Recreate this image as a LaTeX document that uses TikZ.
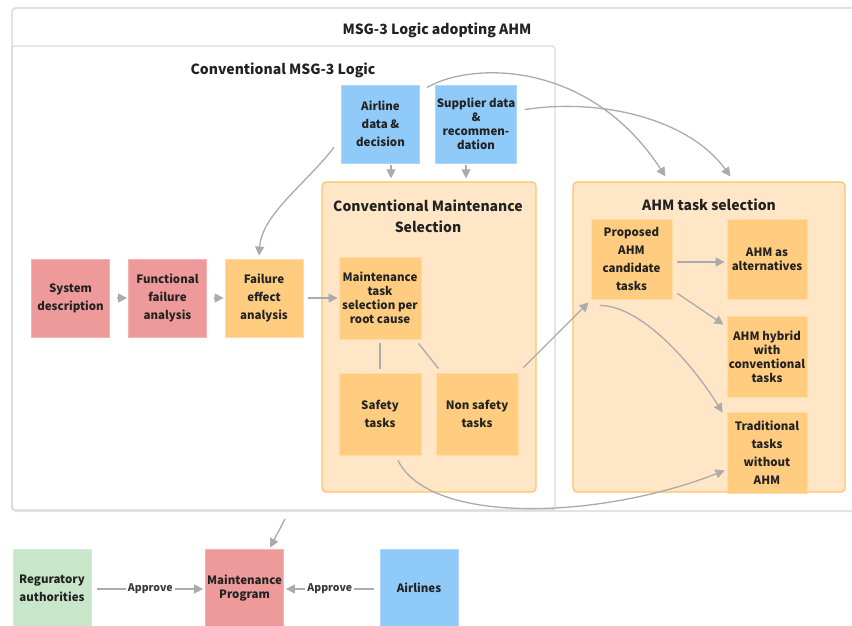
\documentclass[tikz,border=0pt]{standalone}
\usepackage{fontspec}
\setmainfont{Noto Sans CJK JP}
\usetikzlibrary{arrows.meta,calc}

\definecolor{pinkbox}{HTML}{EF9A9A}
\definecolor{bluebox}{HTML}{90CAF9}
\definecolor{orangebox}{HTML}{FFCC80}
\definecolor{greenbox}{HTML}{C8E6C9}
\definecolor{panelfill}{HTML}{FFE6C6}
\definecolor{panelline}{HTML}{FFC266}
\definecolor{conn}{HTML}{ABABAB}
\definecolor{ink}{HTML}{222222}
\definecolor{outerline}{HTML}{E3E3E3}
\definecolor{innerline}{HTML}{DADADA}

\begin{document}
\begin{tikzpicture}[x=1pt,y=-1pt,
  frame/.style={rectangle, inner sep=0pt},
  boxtext/.style={font=\bfseries\fontsize{11.5}{18}\selectfont},
  tight/.style={font=\bfseries\fontsize{11.5}{14}\selectfont},
  box/.style={rectangle, inner sep=1pt, align=center, text=ink, boxtext,
    minimum width=78pt, minimum height=78pt, line width=0.8pt},
  pinknode/.style={box, fill=pinkbox, draw=pinkbox!75!white},
  bluenode/.style={box, fill=bluebox, draw=bluebox!75!white},
  orangenode/.style={box, fill=orangebox, draw=orangebox!70!white},
  greennode/.style={box, fill=greenbox, draw=greenbox!75!white},
  panel/.style={frame, fill=panelfill, draw=panelline, line width=1.2pt, rounded corners=4pt},
  heading/.style={text=ink, font=\bfseries\fontsize{14}{21}\selectfont, align=center},
  arr/.style={draw=conn, line width=1.3pt, -{Triangle[length=9pt,width=9pt]}},
  link/.style={draw=conn, line width=1.3pt},
  approve/.style={fill=white, text=ink!90, font=\bfseries\fontsize{10.5}{12}\selectfont, inner sep=2pt}
]
\useasboundingbox (0,0) rectangle (852,626);
\clip (0,0) rectangle (852,626);
\fill[white] (0,0) rectangle (852,626);

% outer and inner frames
\node[frame, draw=outerline, line width=2pt, rounded corners=4pt,
      minimum width=868pt, minimum height=503pt] (outer) at (446,259.5) {};
\node[heading] (outertitle) at (437,30) {MSG-3 Logic adopting AHM};
\node[frame, draw=innerline, line width=1.2pt, rounded corners=3pt,
      minimum width=543pt, minimum height=464pt] (inner) at (283.5,278) {};
\node[heading] (innertitle) at (283,70) {Conventional MSG-3 Logic};

% selection panels
\node[panel, minimum width=214pt, minimum height=310pt] (cms) at (429,337) {};
\node[heading] (cmstitle) at (428,216) {Conventional Maintenance\\Selection};
\node[panel, minimum width=272pt, minimum height=310pt] (ahm) at (709,337) {};
\node[heading] (ahmtitle) at (709,205) {AHM task selection};

% data sources
\node[bluenode] (airline) at (380.5,124) {Airline\\data \&\\decision};
\node[bluenode, tight] (supplier) at (476,124) {Supplier data\\\&\\recommen-\\dation};

% analysis chain
\node[pinknode] (sysdesc) at (70.5,298) {System\\description};
\node[pinknode] (funcfail) at (167.5,298) {Functional\\failure\\analysis};
\node[orangenode] (faileff) at (264,298) {Failure\\effect\\analysis};

% conventional maintenance selection
\node[orangenode, tight, minimum width=82pt, minimum height=82pt] (mtask) at (380,298)
  {Maintenance\\task\\selection per\\root cause};
\node[orangenode, minimum width=82pt, minimum height=82pt] (safety) at (380,414) {Safety\\tasks};
\node[orangenode, minimum width=82pt, minimum height=82pt] (nonsafety) at (477,414) {Non safety\\tasks};

% AHM task selection
\node[orangenode, minimum width=81pt, minimum height=80pt] (proposed) at (631.5,259)
  {Proposed\\AHM\\candidate\\tasks};
\node[orangenode, tight, minimum width=80pt, minimum height=80pt] (alternatives) at (767,259)
  {AHM as\\alternatives};
\node[orangenode, tight, minimum width=80pt, minimum height=81pt] (hybrid) at (767,356.5)
  {AHM hybrid\\with\\conventional\\tasks};
\node[orangenode, minimum width=80pt, minimum height=81pt] (traditional) at (767,452.5)
  {Traditional\\tasks\\without\\AHM};

% approval row
\node[greennode] (reg) at (52,588) {Reguratory\\authorities};
\node[pinknode, tight] (mprog) at (244.5,588) {Maintenance\\Program};
\node[bluenode] (airlines) at (419,588) {Airlines};

% connectors of the analysis chain
\draw[arr, shorten <=7pt, shorten >=1pt] (sysdesc) -- (funcfail);
\draw[arr, shorten <=7pt, shorten >=1pt] (funcfail) -- (faileff);
\draw[arr, shorten <=5pt, shorten >=1pt] (faileff) -- (mtask);
\draw[arr] ($(airline.south west)+(-7,-16)$) .. controls +(-30,38) and +(3,-41) .. ($(faileff.north)+(-5,-3)$);

% data sources into the panels
\draw[arr] ($(airline.south)+(10.5,2)$) -- ($(cms.north)+(-38,-3)$);
\draw[arr] ($(supplier.south)+(-10,2)$) -- ($(cms.north)+(37,-3)$);
\draw[arr] ($(airline.north east)+(7,3)$) .. controls +(44,-26) and +(-76,-117) .. ($(ahm.north west)+(93,-5)$);
\draw[arr] ($(supplier.north east)+(8,25)$) .. controls +(77,-12) and +(-41,-57) .. ($(ahm.north west)+(158,-5)$);

% conventional split
\draw[link, shorten <=4pt, shorten >=4pt] (mtask) -- (safety);
\draw[link] ($(mtask.south east)+(-3,4)$) -- ($(nonsafety.north west)+(3,-4)$);
\draw[arr] ($(nonsafety.north east)+(5,-5)$) -- ($(proposed.south west)+(-2,3)$);

% AHM outcomes
\draw[arr] ($(proposed.east)+(5,3)$) -- ($(alternatives.west)+(-2,3)$);
\draw[arr] ($(proposed.south east)+(5,-6)$) -- ($(hybrid.north west)+(-3,9)$);
\draw[arr] ($(proposed.south west)+(9,6)$) .. controls +(40,0) and +(-33,-53) .. ($(traditional.north west)+(-4,1)$);
\draw[arr] ($(safety.south)+(18,5)$) .. controls +(32,65) and +(-125,49) .. ($(traditional.west)+(-2,18)$);

% program approval
\draw[arr] ($(outer.south west)+(274,7)$) -- ($(mprog.north)+(25.5,-1)$);
\draw[arr] ($(reg.east)+(6,1)$) -- node[approve] (approveleft) {Approve} ($(mprog.west)+(-2,1)$);
\draw[arr] ($(airlines.west)+(-6,1)$) -- node[approve] (approveright) {Approve} ($(mprog.east)+(2,1)$);
\end{tikzpicture}
\end{document}
